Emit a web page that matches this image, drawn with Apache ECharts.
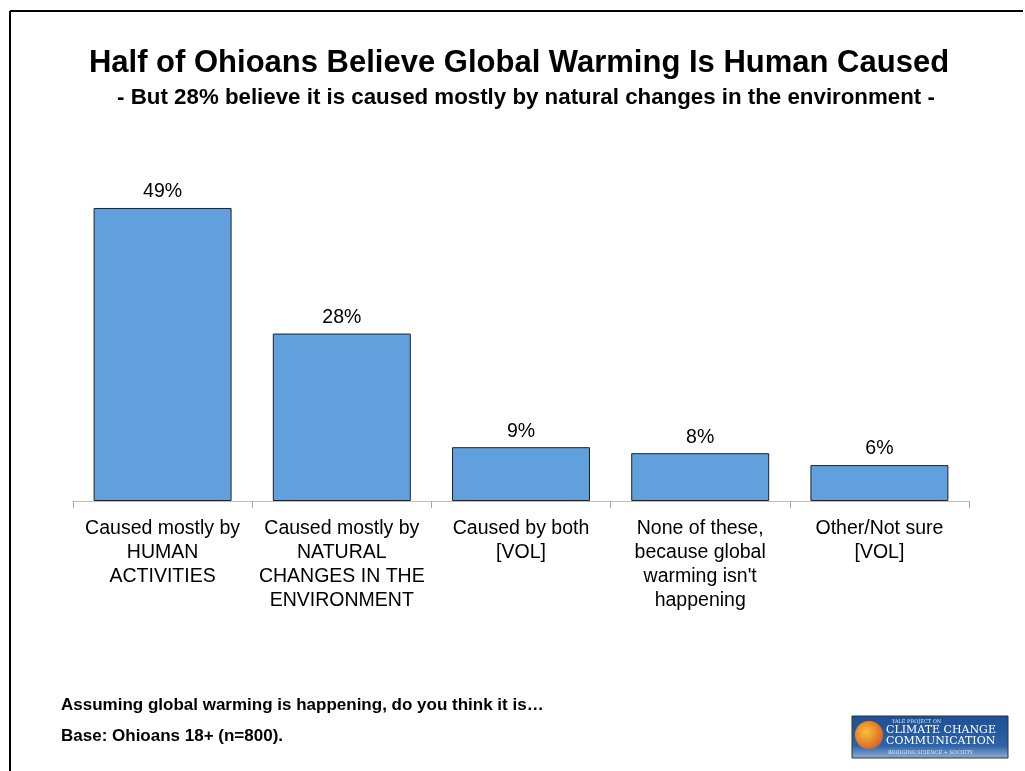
<!DOCTYPE html>
<html>
<head>
<meta charset="utf-8">
<script src="https://cdn.jsdelivr.net/npm/echarts@6/dist/echarts.min.js"></script>
<style>
  html, body { margin: 0; padding: 0; background: #fff; }
  #chart { width: 1025px; height: 771px; }
</style>
</head>
<body>
<div id="chart"></div>
<script>
const categories = [
  'Caused mostly by\nHUMAN\nACTIVITIES',
  'Caused mostly by\nNATURAL\nCHANGES IN THE\nENVIRONMENT',
  'Caused by both\n[VOL]',
  'None of these,\nbecause global\nwarming isn\'t\nhappening',
  'Other/Not sure\n[VOL]'
];
const values = [49, 28, 9, 8, 6];

const font = '"Liberation Sans", Arial, sans-serif';
let chart = echarts.init(document.getElementById('chart'));

let option = {
  backgroundColor: '#fff',
  animation: false,
  title: [
    {
      text: 'Half of Ohioans Believe Global Warming Is Human Caused',
      left: 514, top: 43, textAlign: 'center',
      textStyle: { fontFamily: font, fontSize: 31, fontWeight: 'bold', color: '#000' }
    },
    {
      text: '- But 28% believe it is caused mostly by natural changes in the environment -',
      left: 521, top: 82, textAlign: 'center',
      textStyle: { fontFamily: font, fontSize: 22.3, fontWeight: 'bold', color: '#000' }
    }
  ],
  grid: { left: 73, right: 56, top: 202, bottom: 270 },
  xAxis: {
    type: 'category',
    data: categories,
    axisLine: { lineStyle: { color: '#bfbfbf', width: 1 } },
    axisTick: { show: true, length: 7, lineStyle: { color: '#a6a6a6' } },
    axisLabel: {
      interval: 0, margin: 16, color: '#000',
      fontFamily: font, fontSize: 19.5, lineHeight: 24
    }
  },
  yAxis: {
    type: 'value', min: 0, max: 50,
    show: false,
    splitLine: { show: false }
  },
  series: [{
    type: 'bar',
    data: values,
    barWidth: '77%',
    itemStyle: { color: '#619fdd', borderColor: '#222', borderWidth: 1 },
    label: {
      show: true, position: 'top', distance: 6,
      formatter: '{c}%', color: '#000',
      fontFamily: font, fontSize: 19.5
    }
  }],
  graphic: [
    { type: 'line', shape: { x1: 10, y1: 11, x2: 1023, y2: 11 }, style: { stroke: '#000', lineWidth: 2 } },
    { type: 'line', shape: { x1: 10, y1: 11, x2: 10, y2: 771 }, style: { stroke: '#000', lineWidth: 2 } },
    {
      type: 'text', left: 61, top: 697,
      style: { text: 'Assuming global warming is happening, do you think it is\u2026', font: 'bold 17px ' + font, fill: '#000' }
    },
    {
      type: 'text', left: 61, top: 728,
      style: { text: 'Base: Ohioans 18+ (n=800).', font: 'bold 17px ' + font, fill: '#000' }
    },
    // logo
    {
      type: 'rect', shape: { x: 852, y: 716, width: 156, height: 42 },
      style: {
        fill: new echarts.graphic.LinearGradient(0, 0, 0, 1, [
          { offset: 0, color: '#1d4f94' }, { offset: 0.7, color: '#2c63a8' }, { offset: 1, color: '#8fb0d8' }
        ]),
        stroke: '#333', lineWidth: 1
      }
    },
    {
      type: 'circle', shape: { cx: 869, cy: 735, r: 14 },
      style: {
        fill: new echarts.graphic.RadialGradient(0.4, 0.4, 0.7, [
          { offset: 0, color: '#f7c23a' }, { offset: 1, color: '#d9581c' }
        ])
      }
    },
    { type: 'text', left: 892, top: 719, style: { text: 'YALE PROJECT ON', font: '5px "DejaVu Serif", serif', fill: '#dde6f2' } },
    { type: 'text', left: 886, top: 725, style: { text: 'CLIMATE CHANGE', font: '11px "DejaVu Serif", serif', fill: '#fff' } },
    { type: 'text', left: 886, top: 736, style: { text: 'COMMUNICATION', font: '11px "DejaVu Serif", serif', fill: '#fff' } },
    { type: 'text', left: 888, top: 750, style: { text: 'BRIDGING SCIENCE + SOCIETY', font: '5px "DejaVu Serif", serif', fill: '#dde6f2' } }
  ]
};
chart.setOption(option);
</script>
</body>
</html>
